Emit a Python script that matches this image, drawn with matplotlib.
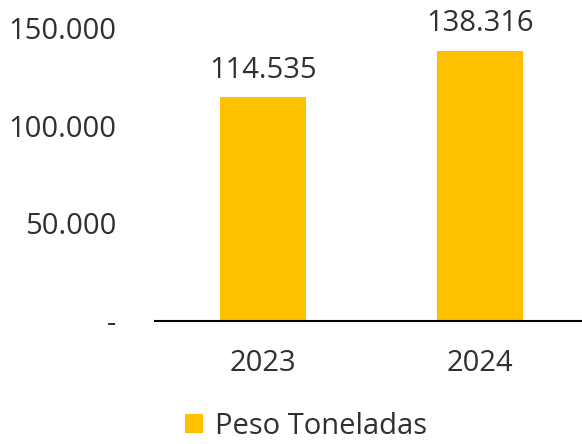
import matplotlib
matplotlib.use("Agg")
import matplotlib.pyplot as plt
from matplotlib.patches import Patch

years = ["2023", "2024"]
peso_ton = [114535, 138316]
ytick_vals = [0, 50000, 100000, 150000]
ytick_labels = ["-", "50.000", "100.000", "150.000"]

BAR_COLOR = "#FFC000"
TEXT_COLOR = "#303030"


def fmt(v):
    return f"{v:,}".replace(",", ".")


def main():
    plt.rcParams["font.family"] = ["Open Sans", "DejaVu Sans"]
    fig = plt.figure(figsize=(5.82, 4.44), dpi=100)
    # axis runs a little past the right edge of the image, like the original
    ax = fig.add_axes([0.2663, 0.277, 0.744, 0.66])

    x = range(len(years))
    bars = ax.bar(x, peso_ton, width=0.395, color=BAR_COLOR)

    for b, v in zip(bars, peso_ton):
        ax.text(b.get_x() + b.get_width() / 2, v + 6500, fmt(v),
                ha="center", va="bottom", fontsize=21, color=TEXT_COLOR,
                clip_on=False)

    ax.set_xlim(-0.5, 1.5)
    ax.set_ylim(0, 150000)
    ax.set_xticks(list(x))
    ax.set_xticklabels(years)
    ax.set_yticks(ytick_vals)
    ax.set_yticklabels(ytick_labels)
    ax.tick_params(axis="both", length=0, labelsize=21, colors=TEXT_COLOR)
    ax.tick_params(axis="y", pad=28)
    ax.tick_params(axis="x", pad=20)

    for s in ["top", "right", "left"]:
        ax.spines[s].set_visible(False)
    ax.spines["bottom"].set_color("black")
    ax.spines["bottom"].set_linewidth(1.5)

    handle = Patch(facecolor=BAR_COLOR, label="Peso Toneladas")
    fig.legend(handles=[handle], loc="center", bbox_to_anchor=(0.526, 0.04),
               frameon=False, fontsize=21, handlelength=0.62, handleheight=0.62,
               handletextpad=0.4, labelcolor=TEXT_COLOR)

    fig.savefig("out.png", dpi=100)


if __name__ == "__main__":
    main()
